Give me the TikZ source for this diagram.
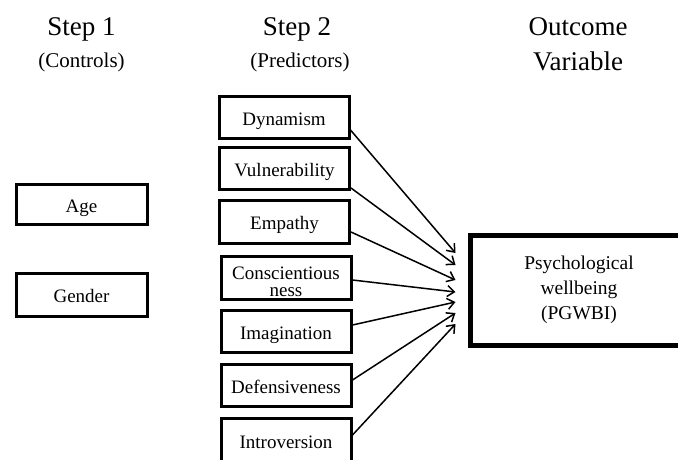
\documentclass[tikz,border=0pt]{standalone}
\usepackage{fontspec}
\setmainfont{Liberation Serif}
\usetikzlibrary{calc,arrows.meta}
\begin{document}
\begin{tikzpicture}[x=1pt,y=-1pt,
  hdr/.style={anchor=base,font=\fontsize{27}{32}\selectfont},
  sub/.style={anchor=base,font=\fontsize{21}{25}\selectfont},
  box/.style={draw,line width=3pt,minimum width=130pt,minimum height=42pt,inner sep=0pt,align=center,text height=19pt,text depth=3pt,font=\fontsize{19}{17}\selectfont},
  lbl/.style={anchor=base,inner sep=0pt,font=\fontsize{19}{17}\selectfont},
  outbox/.style={draw,line width=5pt,minimum width=218pt,minimum height=110pt,inner sep=0pt,align=center,font=\fontsize{19.5}{25}\selectfont},
  arr/.style={line width=1.5pt,-{Straight Barb[length=7pt,width=11pt,line width=1.5pt]}}]
\useasboundingbox (0,0) rectangle (678,459);
\begin{scope}
\clip (0,0) rectangle (678,459);
% headers
\node[hdr] (h1) at (81.5,35) {Step 1};
\node[sub] (s1) at (81.5,67) {(Controls)};
\node[hdr] (h2) at (297,35) {Step 2};
\node[sub] (s2) at (300,67) {(Predictors)};
\node[hdr] (h3a) at (578,35) {Outcome};
\node[hdr] (h3b) at (578,70) {Variable};
% controls
\node[box,minimum width=131pt,minimum height=40pt] (age) at (81.5,204) {Age};
\node[box,minimum width=131pt,minimum height=43pt] (gender) at (81.5,294.5) {Gender};
% predictors
\node[box] (dyn) at (284,117) {Dynamism};
\node[box] (vul) at (284.5,168) {Vulnerability};
\node[box,minimum height=43pt] (emp) at (284.5,221.5) {Empathy};
\node[box,minimum height=43pt] (con) at (286,277.5) {};
\node[lbl] (cona) at ($(con.center)+(0,1.5)$) {Conscientious};
\node[lbl] (conb) at ($(con.center)+(0,18.5)$) {ness};
\node[box] (ima) at (286,331) {Imagination};
\node[box] (def) at (286,385) {Defensiveness};
\node[box,minimum height=45pt] (intr) at (286,440.5) {Introversion};
% outcome
\node[outbox] (out) at (579,290) {Psychological\\wellbeing\\(PGWBI)};
% arrow targets
\coordinate (t1) at ($(out.west)+(-12,-37)$);
\coordinate (t2) at ($(out.west)+(-12,-25)$);
\coordinate (t3) at ($(out.west)+(-12,-10)$);
\coordinate (t4) at ($(out.west)+(-12,2)$);
\coordinate (t5) at ($(out.west)+(-12,12)$);
\coordinate (t6) at ($(out.west)+(-12,23)$);
\coordinate (t7) at ($(out.west)+(-12,34)$);
\draw[arr] ($(dyn.east)+(0,13)$) -- (t1);
\draw[arr] ($(vul.east)+(0,20)$) -- (t2);
\draw[arr] ($(emp.east)+(0,10.5)$) -- (t3);
\draw[arr] ($(con.east)+(0,2.5)$) -- (t4);
\draw[arr] ($(ima.east)+(0,-6)$) -- (t5);
\draw[arr] ($(def.east)+(0,-5)$) -- (t6);
\draw[arr] ($(intr.east)+(0,-5.5)$) -- (t7);
\end{scope}
\end{tikzpicture}
\end{document}
